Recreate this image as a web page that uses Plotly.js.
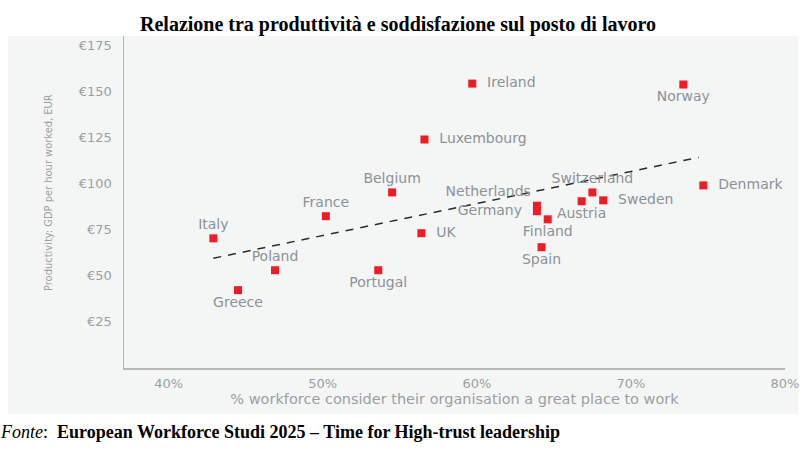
<!DOCTYPE html>
<html>
<head>
<meta charset="utf-8">
<script src="https://cdn.plot.ly/plotly-3.0.1.min.js"></script>
<style>html,body{margin:0;padding:0;background:#fff;}#chart{width:800px;height:450px;}</style>
</head>
<body>
<div id="chart"></div>
<script>
// Data
const countries = ["Italy","Greece","Poland","France","Portugal","Belgium","Luxembourg","UK","Ireland","Netherlands","Germany","Finland","Spain","Austria","Switzerland","Sweden","Norway","Denmark"];
const greatPlacePct = [42.9,44.5,46.9,50.2,53.6,54.5,56.6,56.4,59.7,63.9,63.9,64.6,64.2,66.8,67.5,68.2,73.4,74.7];
const productivityEur = [70.3,42.2,53.0,82.3,53.0,95.2,123.9,73.1,154.2,88.0,85.0,80.6,65.5,90.4,95.2,90.9,153.7,99.0];
const trendX = [42.9, 74.4];
const trendY = [59.5, 114.2];
const yTickVals = [25,50,75,100,125,150,175];
const yTickText = ["€25","€50","€75","€100","€125","€150","€175"];
const xTickVals = [40,50,60,70,80];
const xTickText = ["40%","50%","60%","70%","80%"];

// label placement (style only)
const labelPos = ["top center","bottom center","top center","top center","bottom center","top center","middle right","middle right","middle right","top left","middle left","bottom center","bottom center","bottom center","top center","middle right","bottom center","middle right"];
const NB = "\u00a0";
const labelText = countries.map((c, i) =>
  labelPos[i] === "middle right" ? NB + NB + c :
  labelPos[i] === "middle left" ? c + NB + NB : c);

const panel = "#f4f6f6";
const gray = "#8c9196";
const font = "DejaVu Sans, Open Sans, sans-serif";

const traces = [
  {
    x: trendX, y: trendY, type: "scatter", mode: "lines",
    line: {color: "#2b2b2b", width: 1.5, dash: "8px,7px"},
    hoverinfo: "skip", showlegend: false
  },
  {
    x: greatPlacePct, y: productivityEur, text: labelText,
    type: "scatter", mode: "markers+text",
    textposition: labelPos,
    textfont: {family: font, size: 14, color: gray},
    marker: {symbol: "square", size: 8, color: "#ee1c25"},
    showlegend: false
  }
];

const L = 124, R = 15, T = 36, B = 82;
const W = 800 - L - R, H = 450 - T - B;
const px = v => (v - L) / W;
const py = v => (450 - B - v) / H;

const layout = {
  width: 800, height: 450,
  margin: {l: L, r: R, t: T, b: B, pad: 0},
  paper_bgcolor: "#ffffff",
  plot_bgcolor: panel,
  title: {
    text: "<b>Relazione tra produttività e soddisfazione sul posto di lavoro</b>",
    font: {family: "Liberation Serif, Times New Roman, serif", size: 20, color: "#000"},
    x: 398/800, xanchor: "center", xref: "container", y: 1 - 24/450, yanchor: "middle", yref: "container"
  },
  xaxis: {
    range: [37.1, 80.0], showgrid: false, zeroline: false,
    showline: true, linecolor: "#b4b8bb", linewidth: 1.5,
    tickvals: xTickVals, ticktext: xTickText, ticks: "",
    ticklabelstandoff: 3,
    tickfont: {family: font, size: 13, color: "#9a9fa3"},
    title: {text: "% workforce consider their organisation a great place to work",
            font: {family: font, size: 14.5, color: "#9a9fa3"}, standoff: 3}
  },
  yaxis: {
    range: [0, 180], showgrid: false, zeroline: false,
    showline: true, linecolor: "#b4b8bb", linewidth: 1.5,
    tickvals: yTickVals, ticktext: yTickText, ticks: "",
    ticklabelstandoff: 8,
    tickfont: {family: font, size: 13, color: "#9a9fa3"}
  },
  shapes: [
    {type: "rect", xref: "paper", yref: "paper", layer: "below",
     x0: px(8), x1: px(798), y0: py(414), y1: py(36),
     fillcolor: panel, line: {width: 0}}
  ],
  annotations: [
    {text: "Productivity: GDP per hour worked, EUR", textangle: -90,
     xref: "paper", yref: "paper", x: px(48), y: py(193),
     xanchor: "center", yanchor: "middle", showarrow: false,
     font: {family: "DejaVu Sans Condensed, DejaVu Sans, sans-serif", size: 11, color: "#9a9fa3"}},
    {text: "<i>Fonte</i>:  <b>European Workforce Studi 2025 – Time for High-trust leadership</b>",
     xref: "paper", yref: "paper", x: px(-2), y: py(432),
     xanchor: "left", yanchor: "middle", showarrow: false,
     font: {family: "Liberation Serif, Times New Roman, serif", size: 18, color: "#000"}}
  ]
};

Plotly.newPlot("chart", traces, layout, {displayModeBar: false, staticPlot: true});
</script>
</body>
</html>
